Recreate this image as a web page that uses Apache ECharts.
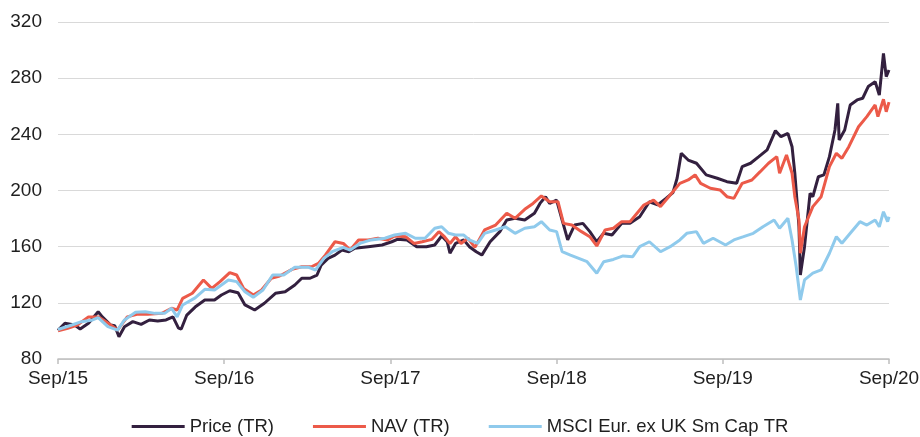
<!DOCTYPE html>
<html>
<head>
<meta charset="utf-8">
<script src="https://cdn.jsdelivr.net/npm/echarts@6/dist/echarts.min.js"></script>
<style>
html,body{margin:0;padding:0;background:#fff;}
#chart{width:920px;height:437px;}
</style>
</head>
<body>
<div id="chart"></div>
<script>
// x positions: months since Sep/15
var xTickLabels = ['Sep/15','Sep/16','Sep/17','Sep/18','Sep/19','Sep/20'];
var seriesNames = ['Price (TR)','NAV (TR)','MSCI Eur. ex UK Sm Cap TR'];

var priceX = [0,0.5,1.2,1.6,2.2,2.9,3.2,3.8,4.1,4.4,4.8,5.4,6.0,6.6,7.2,7.8,8.3,8.7,8.9,9.3,9.9,10.6,11.3,11.8,12.4,13.0,13.5,14.2,14.9,15.7,16.4,17.1,17.6,18.2,18.7,19.0,19.5,20.0,20.5,21.0,21.4,22.4,23.4,24.1,24.5,25.2,25.9,26.6,27.2,27.7,28.1,28.3,28.7,29.3,29.7,30.2,30.6,31.2,31.9,32.4,33.0,33.7,34.4,34.8,35.2,35.5,36.0,36.4,36.6,36.8,37.3,37.9,38.4,38.9,39.4,40.0,40.7,41.3,42.0,42.7,43.3,43.9,44.4,44.7,45.0,45.5,46.1,46.8,47.6,48.3,49.0,49.4,50.0,50.6,51.2,51.8,52.2,52.7,53.0,53.2,53.5,53.6,53.9,54.3,54.5,54.9,55.3,55.7,56.1,56.3,56.4,56.8,57.2,57.7,58.1,58.5,59.0,59.3,59.6,59.8,60.0];
var priceY = [100.5,105.4,104.2,101.4,105.4,113.7,110,104.2,103.7,95.9,103,106.6,104.7,107.8,107,107.8,110,102,101.4,111.3,117,122,122,125.6,128.6,127.2,118.5,114.9,119.7,126.8,127.9,132.7,137.5,137.5,139.8,146.9,151.7,154,157.6,156.4,158.8,160,161.2,163.5,165.2,164.8,160,160,161.2,167.6,163.5,155.3,162.3,164.8,160,156.4,154,163.5,170.7,179,180.2,179,183.8,190.8,195.6,190.8,193.2,179,172,164.8,175.4,176.6,170.7,163.5,169.5,168.3,176.6,176.6,181.3,192,189.7,194.4,198.5,208.7,226.5,221.7,219.4,211.1,208.7,206.3,205.1,217,219.4,224.1,228.9,242.6,238.3,240.7,231.2,212.3,174.2,139.8,160,198,195.6,209.8,211.1,224.1,243.1,262.1,236,243.1,260.9,264.5,265.7,274,277.5,268,297.7,281.1,285.8];

var navX = [0,0.7,1.4,2.2,2.9,3.6,4.3,5.0,5.7,6.5,7.5,8.2,8.6,9.0,9.7,10.5,11.1,11.7,12.4,12.9,13.4,14.1,14.7,15.4,16.0,16.9,17.6,18.3,18.8,19.3,20.0,20.6,21.1,21.7,22.4,23.1,23.8,24.3,25.1,25.7,26.3,27.0,27.5,27.9,28.3,28.7,29.1,29.6,30.1,30.8,31.6,32.4,33.0,33.7,34.3,34.9,35.5,36.1,36.5,37.1,37.8,38.4,38.9,39.5,40.1,40.7,41.3,42.3,43.0,43.5,44.2,44.9,45.5,46.0,46.4,47.1,47.8,48.3,48.8,49.4,50.1,50.7,51.3,51.9,52.1,52.6,53.0,53.2,53.5,53.6,53.9,54.5,55.1,55.7,56.2,56.6,57.1,57.8,58.4,59.0,59.2,59.6,59.8,60.0];
var navY = [100,101.9,104.2,110,110,105.6,100.6,110,111.8,111.8,112.5,116.1,114.9,123.2,126.8,136.3,130.3,135.1,141.5,139.8,130.3,125.6,129.1,137.5,139.1,143.8,145.7,145.7,148.1,154,163.5,162.3,157.6,164.8,164.8,166,164.8,167.6,167.1,162.3,163.5,165.2,170.7,167.1,162.3,167.1,162.3,166,159.5,171.9,175.4,183.8,180.2,186.6,190.8,196.1,192,192,176.6,175.4,170.7,167.1,160.5,171.9,173.1,177.8,177.8,189.7,193.2,188.5,196.8,205.1,207.5,211.1,205.1,201.6,200.4,195.6,194.4,205.1,207.5,213.4,219.4,224.1,212.3,225.3,212.3,195.6,179,155.3,174.2,188.5,195.6,217,226.5,222.9,231.2,245.4,252.6,260.9,252.6,265,256.1,263];

var msciX = [0,1.0,1.7,2.5,2.9,3.6,4.3,4.8,5.6,6.3,7.0,7.7,8.2,8.6,9.0,9.9,10.6,11.3,12.3,12.9,13.5,14.1,14.8,15.5,16.3,17.1,18.1,18.6,19.2,19.8,20.6,21.1,21.8,22.6,23.6,24.3,25.1,25.8,26.5,27.2,27.7,28.2,28.7,29.3,29.7,30.3,30.8,31.6,32.3,33.0,33.7,34.4,34.9,35.5,36.0,36.4,37.0,37.6,38.2,38.9,39.4,40.1,40.8,41.5,42.0,42.7,43.5,44.2,44.9,45.4,46.1,46.6,47.3,48.2,48.8,49.5,50.2,50.9,51.7,52.1,52.7,53.0,53.3,53.6,53.9,54.5,55.1,55.7,56.2,56.6,57.2,57.9,58.4,59.0,59.3,59.6,59.9,60.0];
var msciY = [101,104.2,106.6,107.8,109.4,103,100.6,107.8,113.3,113.7,112.5,112.5,116.1,110,118.5,123.5,129.6,129.1,136.3,135.1,127.9,123.9,129.1,139.8,139.8,145.3,145.3,143.4,151.7,156.4,159.5,157.6,162.3,164.8,166,168.3,169.5,166,166,173.1,174.2,169.5,168.3,168.3,164.8,162.3,169.5,171.9,174.2,169.5,173.1,174.2,177.8,171.9,170.7,156.4,154,151.7,149.3,141.1,149.3,150.9,153.4,152.9,160,163.5,156.4,160,164.8,169.5,170.7,162.4,166,161.2,164.8,167.1,169.5,174.2,179,173.1,180.2,164.8,145.7,122,136.3,141.1,143.4,155.3,167.1,162.4,169.5,177.8,175.4,179,174.2,184.9,177.8,181.3];

function pairs(xs, ys){ return xs.map(function(x,i){ return [x, ys[i]]; }); }

var FONT = 'Arial, "Liberation Sans", sans-serif';
var TXT = '#1f1f1f';
var chart = echarts.init(document.getElementById('chart'), null, {renderer:'canvas'});
chart.setOption({
  animation:false,
  backgroundColor:'#ffffff',
  grid:{left:58, right:31, top:22, bottom:78, containLabel:false, outerBoundsMode:'none'},
  legend:{
    top:412, left:'center',
    itemWidth:53, itemHeight:3, itemGap:39,
    icon:'rect',
    textStyle:{fontFamily:FONT, fontSize:18.5, color:TXT, padding:[0,0,0,0]},
    data:seriesNames
  },
  xAxis:{
    type:'value', min:0, max:60, interval:12,
    axisLine:{show:true, lineStyle:{color:'#bfbfbf', width:1.5}},
    axisTick:{show:true, length:5, lineStyle:{color:'#bfbfbf', width:1.5}},
    splitLine:{show:false},
    axisLabel:{fontFamily:FONT, fontSize:19, color:TXT, margin:10,
      formatter:function(v){ return xTickLabels[Math.round(v/12)]; }}
  },
  yAxis:{
    type:'value', min:80, max:320, interval:40,
    axisLine:{show:false}, axisTick:{show:false},
    splitLine:{lineStyle:{color:'#d9d9d9', width:1}},
    axisLabel:{fontFamily:FONT, fontSize:19, color:TXT, margin:16}
  },
  series:[
    {name:seriesNames[0], type:'line', data:pairs(priceX, priceY), showSymbol:false, color:'#33203f', lineStyle:{width:3, color:'#33203f'}},
    {name:seriesNames[1], type:'line', data:pairs(navX, navY), showSymbol:false, color:'#ec5a49', lineStyle:{width:3, color:'#ec5a49'}},
    {name:seriesNames[2], type:'line', data:pairs(msciX, msciY), showSymbol:false, color:'#8fcaec', lineStyle:{width:3, color:'#8fcaec'}}
  ]
});
</script>
</body>
</html>
